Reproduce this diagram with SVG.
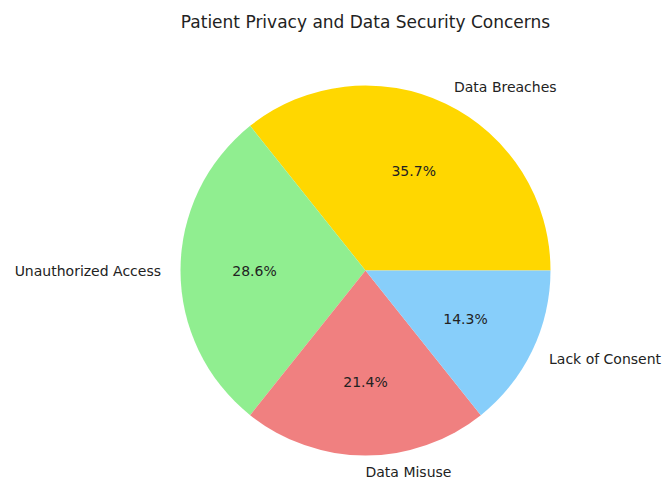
<svg xmlns="http://www.w3.org/2000/svg" width="663" height="480" viewBox="0 0 663 480">
  <style>
    text { font-family: "DejaVu Sans", "Liberation Sans", sans-serif; fill: #222; }
    .title { font-size: 17px; text-anchor: middle; }
    .lbl { font-size: 14px; dominant-baseline: central; }
    .pct { font-size: 14px; text-anchor: middle; dominant-baseline: central; }
  </style>
  <rect width="663" height="480" fill="#ffffff"/>
  <text class="title" x="365.5" y="28">Patient Privacy and Data Security Concerns</text>

  <g id="slice-data-breaches">
    <path d="M365.5,270.5 L550.5,270.5 A185,185 0 0 0 250.15,125.86 Z" fill="#FFD700"/>
    <text class="lbl" x="454" y="87" text-anchor="start">Data Breaches</text>
    <text class="pct" x="413.7" y="170.5">35.7%</text>
  </g>
  <g id="slice-unauthorized-access">
    <path d="M365.5,270.5 L250.15,125.86 A185,185 0 0 0 250.15,415.14 Z" fill="#90EE90"/>
    <text class="lbl" x="161" y="270.5" text-anchor="end">Unauthorized Access</text>
    <text class="pct" x="254.5" y="270.5">28.6%</text>
  </g>
  <g id="slice-data-misuse">
    <path d="M365.5,270.5 L250.15,415.14 A185,185 0 0 0 480.85,415.14 Z" fill="#F08080"/>
    <text class="lbl" x="365.5" y="471.5" text-anchor="start">Data Misuse</text>
    <text class="pct" x="365.5" y="381.5">21.4%</text>
  </g>
  <g id="slice-lack-of-consent">
    <path d="M365.5,270.5 L480.85,415.14 A185,185 0 0 0 550.5,270.5 Z" fill="#87CEFA"/>
    <text class="lbl" x="549" y="358.8" text-anchor="start">Lack of Consent</text>
    <text class="pct" x="465.5" y="318.7">14.3%</text>
  </g>
  <g id="connectors"/>
</svg>
